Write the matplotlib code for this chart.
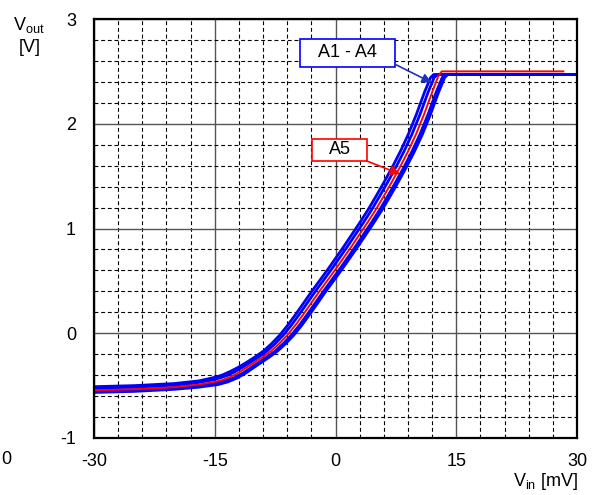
import matplotlib
matplotlib.use("Agg")
import matplotlib.pyplot as plt
from matplotlib.patches import Rectangle
import numpy as np

plt.rcParams['font.family'] = ['Liberation Sans', 'DejaVu Sans']
plt.rcParams['mathtext.fontset'] = 'custom'
plt.rcParams['mathtext.rm'] = 'Liberation Sans'
plt.rcParams['mathtext.it'] = 'Liberation Sans:italic'

# ---- data ----
x_ticks = [-30, -15, 0, 15, 30]
y_ticks = [-1, 0, 1, 2, 3]

# A5 (red)
a5_vin = [-30, -25, -20, -17, -15, -14, -13, -12, -11, -10, -9, -8, -7, -6, -5, -4, -3, -2, -1,
          0, 1, 2, 3, 4, 5, 6, 7, 8, 9, 10, 11, 12, 12.8, 13.2, 28.3]
a5_vout = [-0.545, -0.535, -0.515, -0.49, -0.465, -0.445, -0.415, -0.375, -0.325, -0.275, -0.225,
           -0.17, -0.10, -0.02, 0.075, 0.18, 0.29, 0.40, 0.505, 0.61, 0.72, 0.83, 0.945, 1.06,
           1.18, 1.31, 1.445, 1.585, 1.735, 1.90, 2.09, 2.30, 2.46, 2.50, 2.50]

# A1 - A4 (blue)
a1_vin = [-30, -25, -20, -17, -15.5, -14.5, -13.95, -12.95, -11.95, -10.95, -9.95, -8.95, -7.95,
          -6.95, -5.95, -4.95, -3.95, -2.95, -1.95, -0.95, 0.05, 1.05, 2.05, 3.05, 4.05, 5.05,
          6.05, 7.05, 8.05, 9.05, 10.05, 11.05, 11.8, 12.2, 30]
a1_vout = [-0.51, -0.50, -0.48, -0.455, -0.43, -0.41, -0.395, -0.36, -0.32, -0.273, -0.224, -0.17,
           -0.10, -0.02, 0.075, 0.18, 0.29, 0.40, 0.505, 0.61, 0.72, 0.83, 0.945, 1.06, 1.18,
           1.31, 1.445, 1.585, 1.735, 1.90, 2.09, 2.30, 2.44, 2.47, 2.47]

a2_vin = [-30, -25, -20, -17, -15.2, -14.3, -13.5, -12.5, -11.5, -10.5, -9.5, -8.5, -7.5,
          -6.5, -5.5, -4.5, -3.5, -2.5, -1.5, -0.5, 0.5, 1.5, 2.5, 3.5, 4.5, 5.5,
          6.5, 7.5, 8.5, 9.5, 10.5, 11.5, 12.25, 12.65, 30]
a2_vout = [-0.525, -0.515, -0.495, -0.47, -0.445, -0.425, -0.405, -0.368, -0.323, -0.274, -0.224,
           -0.17, -0.10, -0.02, 0.075, 0.18, 0.29, 0.40, 0.505, 0.61, 0.72, 0.83, 0.945, 1.06,
           1.18, 1.31, 1.445, 1.585, 1.735, 1.90, 2.09, 2.30, 2.44, 2.47, 2.47]

a3_vin = [-30, -25, -20, -17, -14.8, -13.7, -12.6, -11.5, -10.5, -9.5, -8.5, -7.5, -6.5,
          -5.5, -4.5, -3.5, -2.5, -1.5, -0.5, 0.5, 1.5, 2.5, 3.5, 4.5, 5.5, 6.5,
          7.5, 8.5, 9.5, 10.5, 11.5, 12.5, 13.25, 13.65, 30]
a3_vout = [-0.55, -0.54, -0.52, -0.50, -0.475, -0.455, -0.425, -0.38, -0.328, -0.277, -0.226,
           -0.17, -0.10, -0.02, 0.075, 0.18, 0.29, 0.40, 0.505, 0.61, 0.72, 0.83, 0.945, 1.06,
           1.18, 1.31, 1.445, 1.585, 1.735, 1.90, 2.09, 2.30, 2.44, 2.47, 2.47]

a4_vin = [-30, -25, -20, -17, -14.6, -13.4, -12.3, -11.2, -10.2, -9.2, -8.2, -7.2, -6.2,
          -5.2, -4.2, -3.2, -2.2, -1.2, -0.2, 0.8, 1.8, 2.8, 3.8, 4.8, 5.8, 6.8,
          7.8, 8.8, 9.8, 10.8, 11.8, 12.8, 13.55, 13.95, 30]
a4_vout = [-0.565, -0.555, -0.535, -0.515, -0.49, -0.465, -0.43, -0.383, -0.33, -0.278, -0.227,
           -0.17, -0.10, -0.02, 0.075, 0.18, 0.29, 0.40, 0.505, 0.61, 0.72, 0.83, 0.945, 1.06,
           1.18, 1.31, 1.445, 1.585, 1.735, 1.90, 2.09, 2.30, 2.44, 2.47, 2.47]

blue_series = [(a1_vin, a1_vout), (a2_vin, a2_vout), (a3_vin, a3_vout), (a4_vin, a4_vout)]

fig = plt.figure(figsize=(6.02, 4.95), dpi=100)
ax = fig.add_axes([94/602, 1-438/495, (577-94)/602, (438-19)/495])
ax.set_xlim(-30, 30)
ax.set_ylim(-1, 3)

# grid
ax.set_xticks(x_ticks)
ax.set_yticks(y_ticks)
ax.set_xticks(np.arange(-30, 31, 3), minor=True)
ax.set_yticks(np.arange(-1, 3.01, 0.2), minor=True)
ax.grid(True, which='minor', color='black', linestyle=(0, (3.5, 2.5)), linewidth=0.8)
ax.grid(True, which='major', color='#555555', linestyle='-', linewidth=1.0)
ax.set_axisbelow(True)
ax.tick_params(which='both', length=0)
ax.tick_params(axis='x', pad=11, labelsize=13)
ax.tick_params(axis='y', pad=13, labelsize=13)
ax.set_xticklabels([str(v) for v in x_ticks])
ax.set_yticklabels([str(v) for v in y_ticks])
for s in ax.spines.values():
    s.set_linewidth(1.6)
    s.set_color('black')
    s.set_zorder(5)

for vin, vout in blue_series:
    ax.plot(vin, vout, color='#0000ff', linewidth=2.0, solid_joinstyle='round',
            solid_capstyle='butt', zorder=3)
ax.plot(a5_vin, a5_vout, color='#ff0000', linewidth=1.4, solid_joinstyle='round', zorder=4)

# annotation boxes
ax.add_patch(Rectangle((-4.41, 2.546), 7.39 + 4.41, 2.807 - 2.546, facecolor='white',
                       edgecolor='#0000ff', linewidth=1.2, zorder=6, clip_on=False))
ax.text(1.49, 2.677, 'A1 - A4', ha='center', va='center', fontsize=13, zorder=7)
ax.annotate('', xy=(11.95, 2.393), xytext=(7.39, 2.568),
            arrowprops=dict(arrowstyle='-|>', color='#2030c0', lw=1.2, mutation_scale=14,
                            shrinkA=0, shrinkB=0), zorder=7)

ax.add_patch(Rectangle((-2.88, 1.645), 3.88 + 2.88, 1.859 - 1.645, facecolor='white',
                       edgecolor='#ff0000', linewidth=1.2, zorder=6, clip_on=False))
ax.text(0.5, 1.752, 'A5', ha='center', va='center', fontsize=13, zorder=7)
ax.annotate('', xy=(8.0, 1.52), xytext=(3.88, 1.645),
            arrowprops=dict(arrowstyle='-|>', color='#ff0000', lw=1.2, mutation_scale=14,
                            shrinkA=0, shrinkB=0), zorder=7)

# axis labels
fig.text(13/602, 1-30/495, r'V$_{\mathrm{out}}$', fontsize=13, ha='left', va='baseline')
fig.text(30/602, 1-47/495, '[V]', fontsize=13, ha='center', va='center')
fig.text(578/602, 1-481/495, r'V$_{\mathrm{in}}$ [mV]', fontsize=13, ha='right', va='center')
fig.text(1/602, 1-459/495, '0', fontsize=13, ha='left', va='center')

fig.savefig('out.png', dpi=100)
